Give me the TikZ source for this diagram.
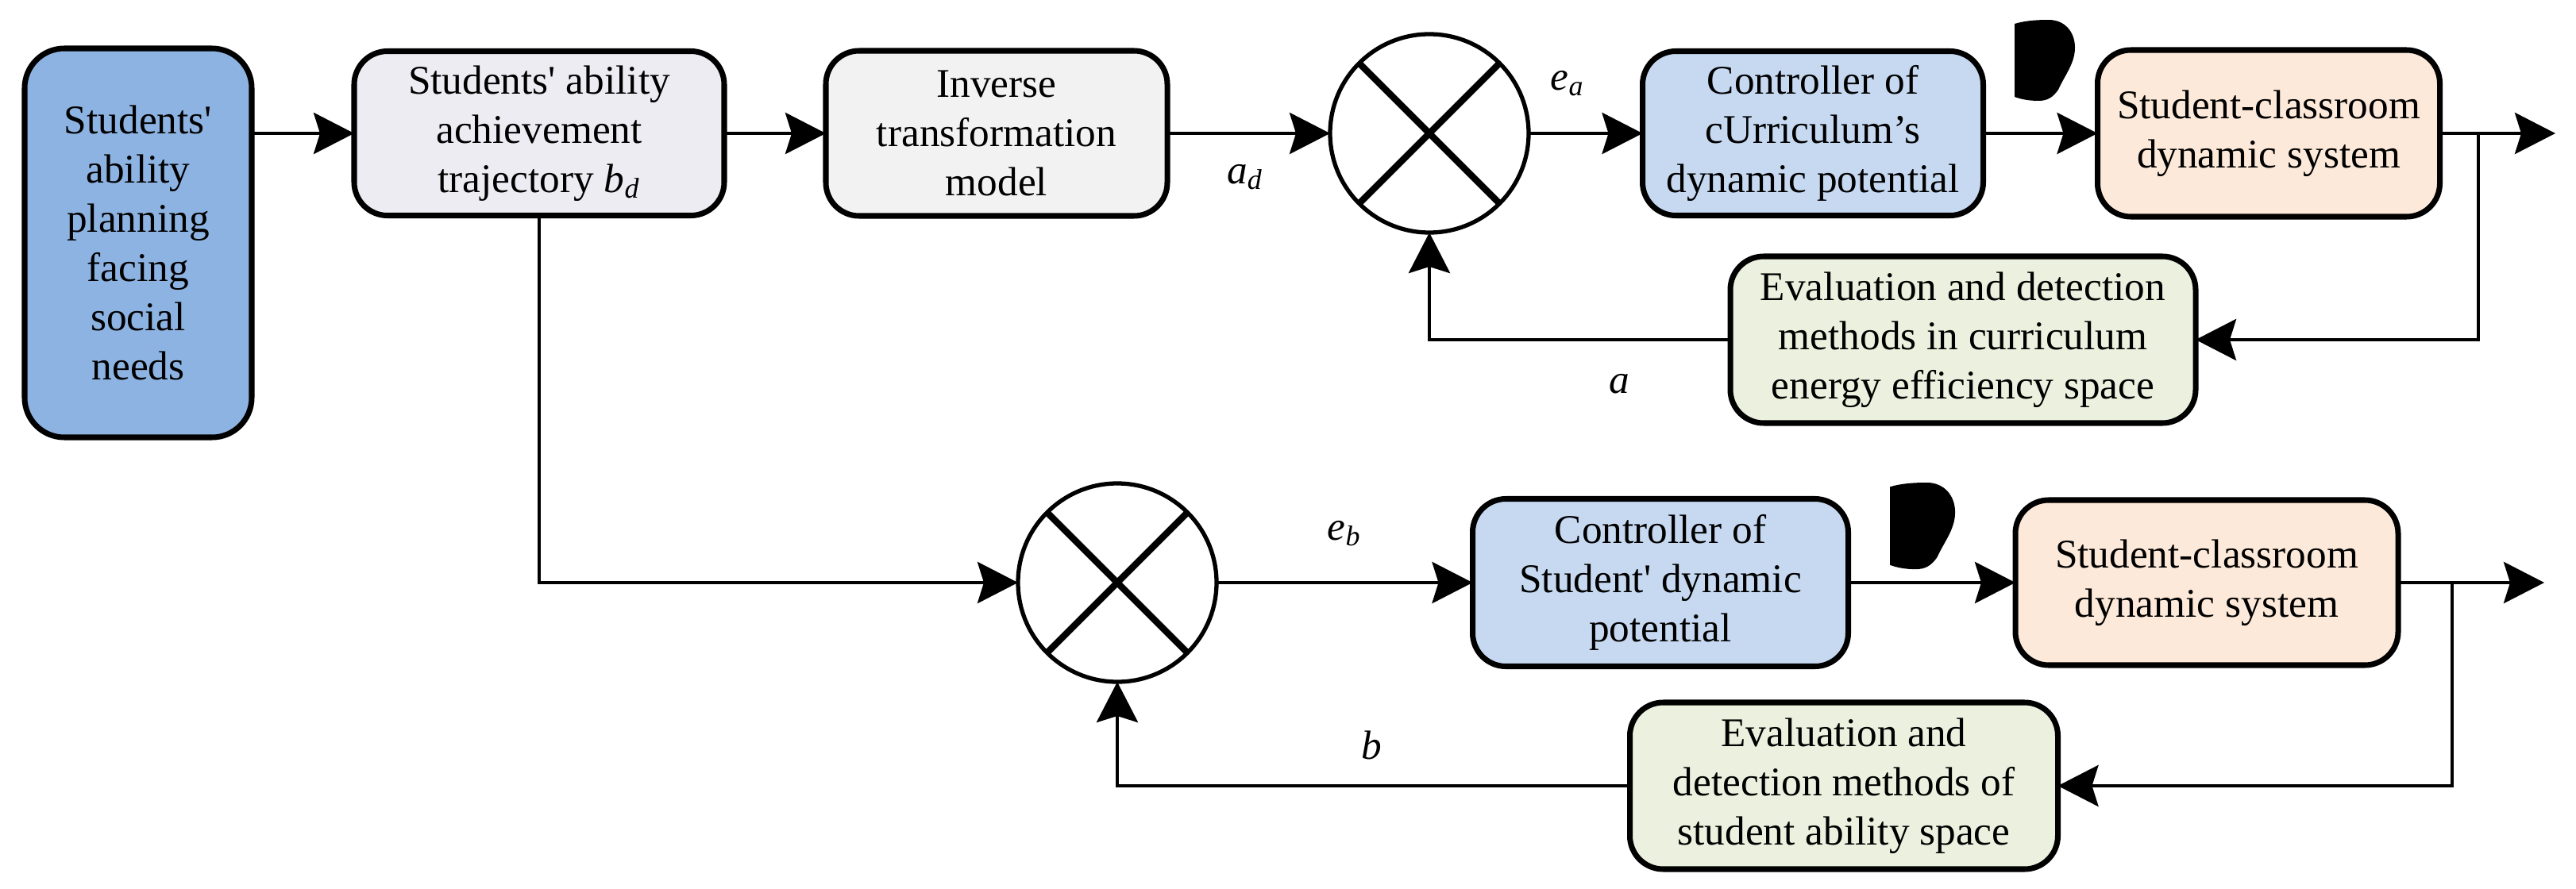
\documentclass[tikz,border=0pt]{standalone}
\usepackage{fontspec}
\setmainfont{Liberation Serif}
\usetikzlibrary{arrows.meta}
\definecolor{planblue}{RGB}{141,179,226}
\definecolor{trajgray}{RGB}{238,236,243}
\definecolor{invgray}{RGB}{242,242,242}
\definecolor{ctrlblue}{RGB}{198,217,241}
\definecolor{syspeach}{RGB}{253,233,217}
\definecolor{fbgreen}{RGB}{235,241,222}
\newcommand{\subvar}[2]{\textit{#1}\textsubscript{\textit{#2}}}
\newcommand{\blobfill}[1]{\fill[#1] (0,-0.05) .. controls (0.13,-0.01) and (0.28,0) .. (0.43,0) .. controls (0.63,0) and (0.76,-0.15) .. (0.76,-0.35) .. controls (0.76,-0.55) and (0.63,-0.70) .. (0.55,-0.88) .. controls (0.48,-0.98) and (0.41,-1.02) .. (0.30,-1.02) .. controls (0.18,-1.02) and (0.08,-1.00) .. (0,-0.97) -- cycle;}
\begin{document}
\begin{tikzpicture}[>={Stealth[length=5.1mm,width=5.2mm,inset=0.8mm]},
  font=\fontsize{14.6}{17.6}\selectfont,
  blk/.style={draw, line width=2pt, rounded corners=0.42cm, align=center, inner sep=0pt, outer sep=0pt},
  sum/.style={draw, circle, line width=1.5pt, fill=white, minimum size=2.5cm, inner sep=0pt, outer sep=0pt},
  conn/.style={line width=1.3pt}]
\useasboundingbox (0,0) rectangle (32.44,-11.20);
% top loop
\node[blk, fill=planblue, minimum width=2.86cm, minimum height=4.90cm, rounded corners=0.5cm] (plan) at (1.74,-3.06) {Students\textquotesingle\\ability\\planning\\facing\\social\\needs};
\node[blk, fill=trajgray, minimum width=4.66cm, minimum height=2.07cm] (traj) at (6.79,-1.68) {Students\textquotesingle{} ability\\achievement\\trajectory \subvar{b}{d}};
\node[blk, fill=invgray, minimum width=4.30cm, minimum height=2.08cm] (inv) at (12.55,-1.68) {Inverse\\transformation\\model};
\node[sum] (sumA) at (18.00,-1.68) {};
\draw[line width=2.4pt] (sumA.north west) -- (sumA.south east);
\draw[line width=2.4pt] (sumA.north east) -- (sumA.south west);
\node[blk, fill=ctrlblue, minimum width=4.29cm, minimum height=2.07cm] (ctrlA) at (22.83,-1.68) {Controller of\\cUrriculum’s\\dynamic potential};
\node[blk, fill=syspeach, minimum width=4.31cm, minimum height=2.10cm] (sysA) at (28.57,-1.68) {Student-classroom\\dynamic system};
\node[blk, fill=fbgreen, minimum width=5.86cm, minimum height=2.10cm] (fbA) at (24.72,-4.28) {Evaluation and detection\\methods in curriculum\\energy efficiency space};
\coordinate (brA) at (31.21,-1.68);
\coordinate (outA) at (32.18,-1.68);
\node (ad) at (15.68,-2.23) {\subvar{a}{d}};
\node (ea) at (19.74,-1.05) {\subvar{e}{a}};
\node (la) at (20.39,-4.84) {\textit{a}};
\blobfill{shift={(25.37,-0.25)}}
\draw[conn,->] (plan.east |- traj.west) -- (traj.west);
\draw[conn,->] (traj) -- (inv);
\draw[conn,->] (inv) -- (sumA);
\draw[conn,->] (sumA) -- (ctrlA);
\draw[conn,->] (ctrlA) -- (sysA);
\draw[conn,->] (sysA) -- (outA);
\draw[conn,->] (brA) |- (fbA.east);
\draw[conn,->] (fbA.west) -| (sumA.south);
% bottom loop
\node[sum] (sumB) at (14.07,-7.34) {};
\draw[line width=2.4pt] (sumB.north west) -- (sumB.south east);
\draw[line width=2.4pt] (sumB.north east) -- (sumB.south west);
\node[blk, fill=ctrlblue, minimum width=4.73cm, minimum height=2.11cm] (ctrlB) at (20.91,-7.34) {Controller of\\Student\textquotesingle{} dynamic\\potential};
\node[blk, fill=syspeach, minimum width=4.82cm, minimum height=2.08cm] (sysB) at (27.79,-7.34) {Student-classroom\\dynamic system};
\node[blk, fill=fbgreen, minimum width=5.39cm, minimum height=2.10cm] (fbB) at (23.22,-9.90) {Evaluation and\\detection methods of\\student ability space};
\coordinate (brB) at (30.88,-7.34);
\coordinate (outB) at (32.04,-7.34);
\node (eb) at (16.93,-6.72) {\subvar{e}{b}};
\node (lb) at (17.27,-9.39) {\textit{b}};
\blobfill{shift={(23.80,-6.08)}, xscale=1.08, yscale=1.07}
\draw[conn,->] (traj.south) |- (sumB.west);
\draw[conn,->] (sumB) -- (ctrlB);
\draw[conn,->] (ctrlB) -- (sysB);
\draw[conn,->] (sysB) -- (outB);
\draw[conn,->] (brB) |- (fbB.east);
\draw[conn,->] (fbB.west) -| (sumB.south);
\end{tikzpicture}
\end{document}
